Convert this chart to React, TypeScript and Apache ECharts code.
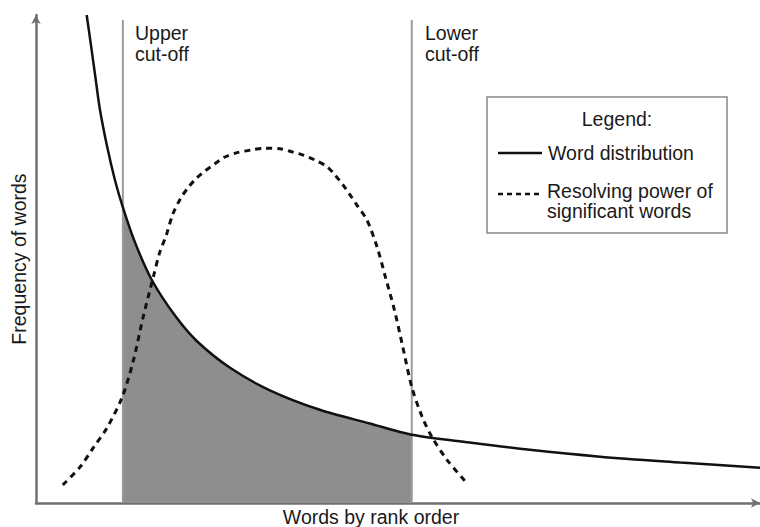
import React, { useEffect, useRef } from "react";
import * as echarts from "echarts";

// Word distribution (Zipf-like curve): rank position (x) and frequency (y)
const wordX = [7.0, 7.5, 8.2, 8.8, 9.8, 10.9, 12.0, 13.7, 16.0, 19.2, 22.2, 26.8, 32.3, 39.2, 46.1, 51.9, 59.9, 68.2, 77.9, 89.0, 100];
const wordY = [100, 94.8, 87.3, 80.9, 73.2, 66.2, 60.6, 53.3, 45.7, 38.4, 33.2, 27.7, 23.1, 19.1, 16.3, 14.0, 12.4, 10.9, 9.5, 8.3, 7.2];

// Resolving power of significant words (dashed bell curve)
const powerX = [3.7, 6.1, 7.9, 9.8, 11.9, 13.4, 14.8, 16.2, 17.1, 18.0, 18.9, 20.0, 21.1, 22.2, 23.3, 24.7, 26.1, 27.8, 29.6, 31.6, 33.7, 35.5, 36.9, 38.5, 40.2, 41.3, 42.4, 43.4, 44.3, 45.7, 47.1, 48.3, 49.5, 50.6, 51.9, 53.3, 54.7, 56.8, 59.5];
const powerY = [3.7, 7.4, 11.3, 15.4, 21.7, 28.9, 38.1, 46.3, 51.4, 54.9, 59.2, 62.5, 64.8, 66.6, 68.0, 69.5, 70.9, 71.8, 72.3, 72.7, 72.6, 71.9, 71.3, 70.3, 68.9, 67.2, 65.2, 63.1, 61.1, 58.0, 52.5, 46.1, 39.6, 32.4, 23.8, 17.8, 13.5, 8.8, 4.1];

// Cut-off positions
const cutoffNames = ["Upper\ncut-off", "Lower\ncut-off"];
const cutoffX = [12.0, 51.9];
const cutoffTop = 99;

const FONT = '"Liberation Sans", Arial, Helvetica, sans-serif';
const FS = 19.5;

export default function App() {
  const ref = useRef<HTMLDivElement>(null);
  useEffect(() => {
    document.body.style.margin = "0";
    const chart = echarts.init(ref.current!, null, { renderer: "svg" });
    const wordData = wordX.map((x, i) => [x, wordY[i]]);
    const powerData = powerX.map((x, i) => [x, powerY[i]]);
    const shadeData = wordData.filter((p) => p[0] >= cutoffX[0] && p[0] <= cutoffX[1]);

    const cutoffSeries = cutoffX.map((x, i) => ({
      type: "line",
      name: cutoffNames[i],
      data: [[x, 0], [x, cutoffTop]],
      symbol: "none",
      lineStyle: { color: "#9a9a9a", width: 2 },
      z: 3,
    }));

    const option: any = {
      animation: false,
      backgroundColor: "#ffffff",
      textStyle: { fontFamily: FONT },
      grid: { left: 36, right: 0, top: 15, bottom: 24, outerBoundsMode: "none", containLabel: false },
      xAxis: {
        type: "value",
        min: 0,
        max: 100,
        axisLabel: { show: false },
        axisTick: { show: false },
        splitLine: { show: false },
        axisLine: {
          show: true,
          symbol: ["none", "arrow"],
          symbolSize: [7, 9],
          lineStyle: { color: "#707070", width: 2.5 },
        },
      },
      yAxis: {
        type: "value",
        min: 0,
        max: 100,
        name: "Frequency of words",
        nameLocation: "middle",
        nameGap: 7,
        nameTextStyle: { fontSize: FS, color: "#1a1a1a", fontFamily: FONT },
        axisLabel: { show: false },
        axisTick: { show: false },
        splitLine: { show: false },
        axisLine: {
          show: true,
          symbol: ["none", "arrow"],
          symbolSize: [7, 9],
          lineStyle: { color: "#707070", width: 2.5 },
        },
      },
      series: [
        {
          type: "line",
          name: "shade",
          data: shadeData,
          smooth: 0.3,
          symbol: "none",
          lineStyle: { width: 0 },
          areaStyle: { color: "#8e8e8e", opacity: 1 },
          z: 1,
        },
        ...cutoffSeries,
        {
          type: "line",
          name: "Word distribution",
          data: wordData,
          smooth: 0.3,
          symbol: "none",
          lineStyle: { color: "#111", width: 2.5 },
          z: 5,
        },
        {
          type: "line",
          name: "Resolving power of significant words",
          data: powerData,
          smooth: 0.3,
          symbol: "none",
          lineStyle: { color: "#111", width: 3, type: [6, 5] },
          z: 6,
        },
      ],
      graphic: [
        {
          type: "text",
          x: 135,
          y: 22,
          style: { text: cutoffNames[0], font: `${FS}px ${FONT}`, fill: "#1a1a1a", lineHeight: 21, textVerticalAlign: "top" },
        },
        {
          type: "text",
          x: 425,
          y: 22,
          style: { text: cutoffNames[1], font: `${FS}px ${FONT}`, fill: "#1a1a1a", lineHeight: 21, textVerticalAlign: "top" },
        },
        {
          type: "text",
          x: 371,
          y: 517,
          style: { text: "Words by rank order", font: `${FS}px ${FONT}`, fill: "#1a1a1a", textAlign: "center", textVerticalAlign: "middle" },
        },
        {
          type: "rect",
          shape: { x: 487, y: 97, width: 240, height: 136 },
          style: { fill: "#fff", stroke: "#888", lineWidth: 1.5 },
          z: 10,
        },
        {
          type: "text",
          x: 617,
          y: 119,
          z: 11,
          style: { text: "Legend:", font: `${FS}px ${FONT}`, fill: "#1a1a1a", textAlign: "center", textVerticalAlign: "middle" },
        },
        {
          type: "line",
          z: 11,
          shape: { x1: 498, y1: 153, x2: 542, y2: 153 },
          style: { stroke: "#111", lineWidth: 2.5 },
        },
        {
          type: "text",
          x: 548,
          y: 153,
          z: 11,
          style: { text: "Word distribution", font: `${FS}px ${FONT}`, fill: "#1a1a1a", textVerticalAlign: "middle" },
        },
        {
          type: "line",
          z: 11,
          shape: { x1: 498, y1: 194, x2: 542, y2: 194 },
          style: { stroke: "#111", lineWidth: 2.5, lineDash: [5, 4] },
        },
        {
          type: "text",
          x: 547,
          y: 191,
          z: 11,
          style: { text: "Resolving power of", font: `${FS}px ${FONT}`, fill: "#1a1a1a", textVerticalAlign: "middle" },
        },
        {
          type: "text",
          x: 547,
          y: 211,
          z: 11,
          style: { text: "significant words", font: `${FS}px ${FONT}`, fill: "#1a1a1a", textVerticalAlign: "middle" },
        },
      ],
    };
    chart.setOption(option);
    return () => chart.dispose();
  }, []);
  return <div ref={ref} style={{ width: 760, height: 527, position: "absolute", left: 0, top: 0 }} />;
}
